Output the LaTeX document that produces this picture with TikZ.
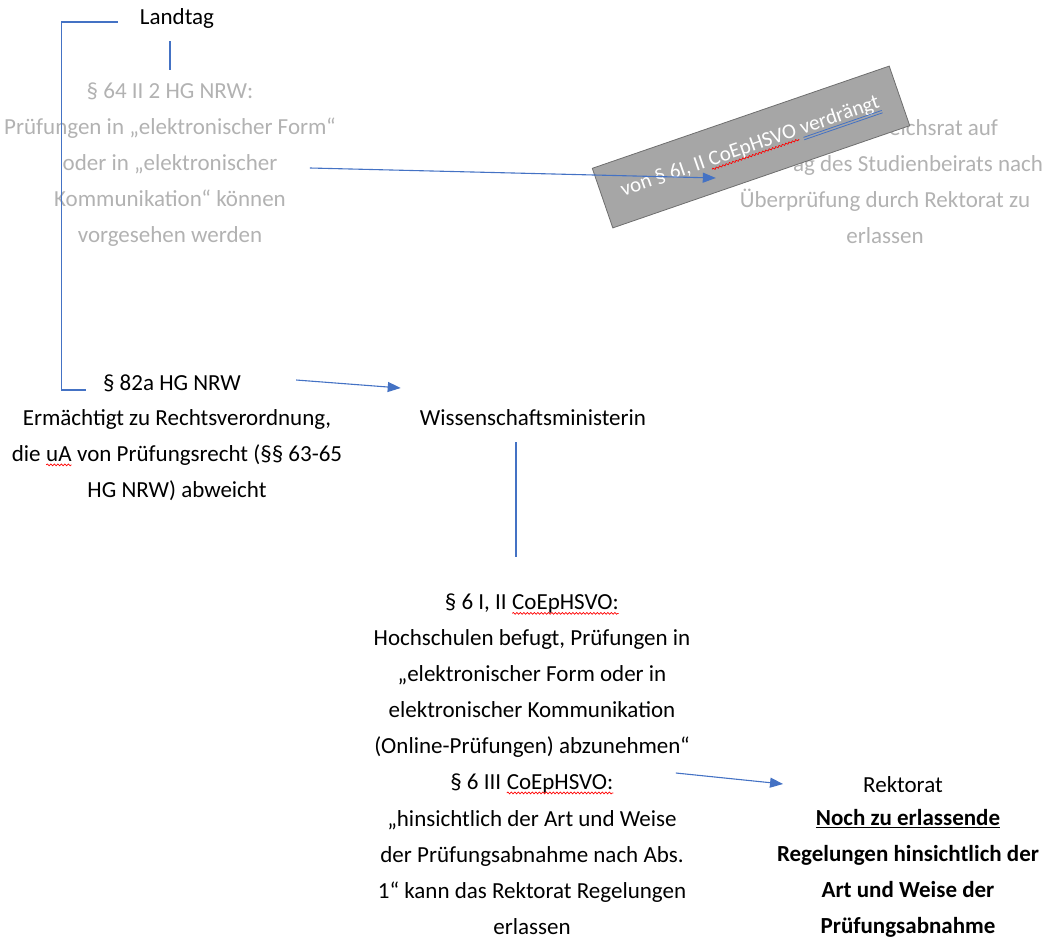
\documentclass[tikz,border=0pt]{standalone}
\usepackage{fontspec}
\setmainfont{Carlito}
\usetikzlibrary{arrows.meta, decorations.pathmorphing}

\definecolor{lineblue}{RGB}{68,114,196}
\definecolor{fadedgray}{RGB}{178,178,178}
\definecolor{boxgray}{RGB}{166,166,166}
\definecolor{boxedge}{RGB}{110,110,110}

% spell-check wave under a word
\tikzset{mark word/.style={inner sep=0pt, outer sep=0pt, minimum width=0pt, minimum height=0pt, font=},
  spellmark/.style={red, line width=0.7pt, decorate, decoration={snake, amplitude=0.9pt, segment length=3.5pt}}}
\newcommand{\redwave}[1]{\tikz[baseline=(w.base)]{\node[mark word] (w) {#1};
  \draw[spellmark] ([yshift=-3.5pt]w.base west) -- ([yshift=-3.5pt]w.base east);}}

\begin{document}
\begin{tikzpicture}[x=1pt, y=-1pt,
  every node/.style={inner sep=2pt, align=center, font=\fontsize{23}{36}\selectfont},
  faded/.style={text=fadedgray},
  link/.style={lineblue, line width=1.1pt},
  pointer/.style={link, -{Triangle[length=13pt, width=10pt]}},
  stamp/.style={fill=boxgray, draw=boxedge, line width=0.8pt, minimum width=314pt,
    minimum height=63pt, rotate=19},
  stamptext/.style={inner sep=0pt, text=white, font=\fontsize{21}{24}\selectfont},
  grammarmark/.style={lineblue, line width=0.8pt}]
\useasboundingbox (0,0) rectangle (1048,939);

\node (landtag) at (177,18) {Landtag};
\node[faded] (p64) at (170,165) {§ 64 II 2 HG NRW:\\Prüfungen in „elektronischer Form“\\oder in „elektronischer\\Kommunikation“ können\\vorgesehen werden};
\node[faded] (pordnung) at (885,182) {\makebox[226pt][r]{eichsrat auf}\\\makebox[316pt][r]{ag des Studienbeirats nach}\\Überprüfung durch Rektorat zu\\erlassen};

\node[stamp] (verdraengt) at (751,147) {};
\begin{scope}[shift={(verdraengt.center)}, rotate=19, transform shape]
\node[stamptext, anchor=base] (vcoep) at (2,5) {CoEpHSVO};
\node[stamptext, anchor=base east] (vvon) at ([xshift=-4.7pt]vcoep.base west) {von § 6I, II};
\node[stamptext, anchor=base west] (vverd) at ([xshift=4.7pt]vcoep.base east) {verdrängt};
\draw[spellmark] ([yshift=-3.5pt]vcoep.base west) -- ([yshift=-3.5pt]vcoep.base east);
\draw[grammarmark] ([yshift=-3pt]vverd.base west) -- ([yshift=-3pt]vverd.base east);
\draw[grammarmark] ([yshift=-5.5pt]vverd.base west) -- ([yshift=-5.5pt]vverd.base east);
\end{scope}

\node (p82) at (172,383) {§ 82a HG NRW};
\node (p82text) at (177,455) {Ermächtigt zu Rechtsverordnung,\\die \redwave{uA} von Prüfungsrecht (§§ 63-65\\HG NRW) abweicht};
\node (ministerin) at (533,418) {Wissenschaftsministerin};

\node (abs12) at (532,676) {§ 6 I, II \redwave{CoEpHSVO:}\\Hochschulen befugt, Prüfungen in\\„elektronischer Form oder in\\elektronischer Kommunikation\\(Online-Prüfungen) abzunehmen“};
\node (abs3) at (532,784) {§ 6 III \redwave{CoEpHSVO:}};
\node (abs3text) at (532,873) {„hinsichtlich der Art und Weise\\der Prüfungsabnahme nach Abs.\\1“ kann das Rektorat Regelungen\\erlassen};
\node (rektorat) at (903,785) {Rektorat};
\node[font=\bfseries\fontsize{23}{36}\selectfont] (rektext) at (908,873) {\underline{Noch zu erlassende}\\Regelungen hinsichtlich der\\Art und Weise der\\Prüfungsabnahme};

% connectors
\draw[link] ([shift={(-20,4)}]landtag.west) -- ++(-56,0) |- ([shift={(-15,7)}]p82.west);
\draw[link, shorten <=11pt, shorten >=11pt] (p64.north |- landtag.south) -- (p64.north);
\draw[pointer] ([shift={(-28,3)}]p64.east) -- ([shift={(-9,-4)}]pordnung.west);
\draw[pointer] ([shift={(53,-3)}]p82.east) -- ([shift={(-17,-30)}]ministerin.west);
\draw[link, shorten <=14pt, shorten >=35pt] ([xshift=-17pt]ministerin.south) -- ([xshift=-17pt]ministerin.south |- abs12.north);
\draw[pointer] ([shift={(60,-11)}]abs3.east) -- ([shift={(-78,-1)}]rektorat.west);
\end{tikzpicture}
\end{document}
